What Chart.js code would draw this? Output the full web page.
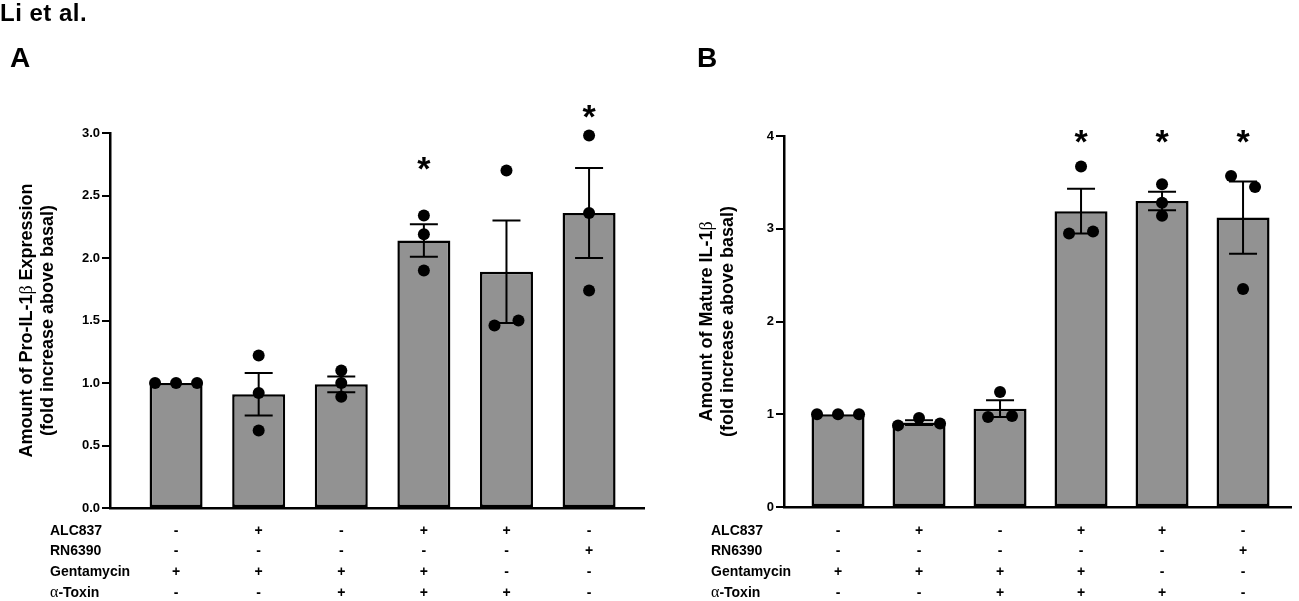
<!DOCTYPE html>
<html lang="en">
<head>
<meta charset="UTF-8">
<title>Li et al. - IL-1β</title>
<style>
  html, body { margin: 0; padding: 0; background: #fff; }
  #wrap { position: relative; width: 1299px; height: 601px; overflow: hidden; }
  canvas { position: absolute; top: 0; }
  #chartA { left: 0; }
  #chartB { left: 650px; }
</style>
</head>
<body>
<div id="wrap">
  <canvas id="chartA" width="650" height="601"></canvas>
  <canvas id="chartB" width="649" height="601"></canvas>
</div>
<script src="https://cdn.jsdelivr.net/npm/chart.js@4.4.1/dist/chart.umd.min.js"></script>
<script>
// treatment table under both panels
const rowNames   = ['ALC837', 'RN6390', 'Gentamycin', 'α-Toxin'];
const alc837     = ['-', '+', '-', '+', '+', '-'];
const rn6390     = ['-', '-', '-', '-', '-', '+'];
const gentamycin = ['+', '+', '+', '+', '-', '-'];
const alphaToxin = ['-', '-', '+', '+', '+', '-'];

// panel A: Pro-IL-1b
const proMeans = [1.00, 0.91, 0.99, 2.14, 1.89, 2.36];
const proSem   = [0.00, 0.17, 0.063, 0.13, 0.41, 0.36];
const proDots  = [[1.00, 1.00, 1.00], [1.22, 0.92, 0.62], [1.10, 1.00, 0.89],
                  [2.34, 2.19, 1.90], [2.70, 1.46, 1.50], [2.98, 2.36, 1.74]];
const proStars = [null, null, null, 2.76, null, 3.17];
const proTicks = [0, 0.5, 1.0, 1.5, 2.0, 2.5, 3.0];

// panel B: mature IL-1b
const matMeans = [1.00, 0.91, 1.06, 3.19, 3.30, 3.12];
const matSem   = [0.00, 0.025, 0.09, 0.24, 0.10, 0.39];
const matDots  = [[1.00, 1.00, 1.00], [0.88, 0.96, 0.90], [1.24, 0.97, 0.98],
                  [3.67, 2.95, 2.97], [3.48, 3.28, 3.14], [3.57, 3.45, 2.35]];
const matStars = [null, null, null, 3.99, 3.99, 3.99];
const matTicks = [0, 1, 2, 3, 4];

const SANS = '"Liberation Sans", Arial, sans-serif';
const SERIF = '"Liberation Serif", "Times New Roman", serif';
const DOT_R = 6;
const CAP = 14;

// prism style scatter: dots closer than one diameter are spread sideways
function spreadDots(dots, pxPerUnit, pxPerCat) {
  const pts = [];
  dots.forEach((vals, i) => {
    const order = vals.map((v, k) => k).sort((a, b) => vals[a] - vals[b]);
    const groups = [];
    order.forEach(k => {
      const g = groups[groups.length - 1];
      if (g && (vals[k] - vals[g[g.length - 1]]) * pxPerUnit < DOT_R * 2) g.push(k);
      else groups.push([k]);
    });
    groups.forEach(g => {
      g.sort((a, b) => a - b);
      const step = g.length === 2 ? 24 : 21;
      g.forEach((k, j) => pts.push({ x: i + (j - (g.length - 1) / 2) * step / pxPerCat, y: vals[k] }));
    });
  });
  return pts;
}

function drawParts(ctx, parts, x, y, align) {
  let w = 0;
  parts.forEach(p => { ctx.font = p.f; w += ctx.measureText(p.t).width; });
  let cx = align === 'center' ? x - w / 2 : x;
  ctx.textAlign = 'left';
  parts.forEach(p => {
    ctx.font = p.f;
    ctx.fillText(p.t, cx, y);
    cx += ctx.measureText(p.t).width;
  });
}

const panelDecor = {
  id: 'panelDecor',
  afterDraw(chart, args, o) {
    const ctx = chart.ctx, xs = chart.scales.x, ys = chart.scales.y;
    ctx.save();
    ctx.fillStyle = '#000';
    ctx.strokeStyle = '#000';

    // SEM bars
    ctx.lineWidth = 2;
    o.means.forEach((m, i) => {
      const s = o.sem[i];
      if (!s) return;
      const x = xs.getPixelForValue(i);
      const y1 = ys.getPixelForValue(m + s), y2 = ys.getPixelForValue(m - s);
      ctx.beginPath();
      ctx.moveTo(x, y1); ctx.lineTo(x, y2);
      ctx.moveTo(x - CAP, y1); ctx.lineTo(x + CAP, y1);
      ctx.moveTo(x - CAP, y2); ctx.lineTo(x + CAP, y2);
      ctx.stroke();
    });

    // asterisks
    ctx.font = 'bold 34px ' + SANS;
    ctx.textAlign = 'center';
    ctx.textBaseline = 'alphabetic';
    o.stars.forEach((v, i) => {
      if (v == null) return;
      const m = ctx.measureText('*');
      const off = (m.actualBoundingBoxAscent - m.actualBoundingBoxDescent) / 2;
      ctx.fillText('*', xs.getPixelForValue(i), ys.getPixelForValue(v) + off);
    });

    // y axis title, rotated
    const midY = (ys.top + ys.bottom) / 2;
    o.title.forEach((parts, li) => {
      ctx.save();
      ctx.translate(o.titleX[li], midY);
      ctx.rotate(-Math.PI / 2);
      drawParts(ctx, parts, 0, 0, 'center');
      ctx.restore();
    });

    // treatment table
    const rows = [alc837, rn6390, gentamycin, alphaToxin];
    const bold14 = 'bold 14px ' + SANS;
    rows.forEach((signs, r) => {
      const y = o.rowY[r];
      if (rowNames[r].startsWith('α')) {
        drawParts(ctx, [{ t: 'α', f: '16px ' + SERIF }, { t: rowNames[r].slice(1), f: bold14 }], o.tableX, y, 'left');
      } else {
        drawParts(ctx, [{ t: rowNames[r], f: bold14 }], o.tableX, y, 'left');
      }
      ctx.font = bold14;
      ctx.textAlign = 'center';
      signs.forEach((s, i) => ctx.fillText(s, xs.getPixelForValue(i), y));
    });

    // figure / panel letters
    ctx.textAlign = 'left';
    if (o.header) {
      ctx.font = 'bold 24px ' + SANS;
      if ('letterSpacing' in ctx) ctx.letterSpacing = '0.5px';
      ctx.fillText('Li et al.', 0, 21);
      if ('letterSpacing' in ctx) ctx.letterSpacing = '0px';
    }
    ctx.font = 'bold 28px ' + SANS;
    ctx.fillText(o.letter, o.letterX, 67);
    ctx.restore();
  }
};

function makePanel(id, p) {
  const pxPerUnit = (p.bottom - p.top) / p.yMax;
  const pxPerCat = (p.right - p.axisX) / (p.xMax - p.xMin);
  const canvas = document.getElementById(id);
  return new Chart(canvas, {
    type: 'bar',
    data: {
      datasets: [
        {
          type: 'scatter',
          data: spreadDots(p.dots, pxPerUnit, pxPerCat),
          backgroundColor: '#000',
          borderWidth: 0,
          pointRadius: DOT_R,
          clip: false,
          order: 0
        },
        {
          type: 'bar',
          data: p.means.map((m, i) => ({ x: i, y: m })),
          backgroundColor: '#929292',
          borderColor: '#000',
          borderWidth: 2.5,
          borderSkipped: false,
          categoryPercentage: 1,
          barPercentage: 53 / pxPerCat,
          order: 1
        }
      ]
    },
    options: {
      responsive: false,
      animation: false,
      events: [],
      layout: { padding: { left: 0, right: canvas.width - p.right, top: p.top, bottom: canvas.height - p.bottom } },
      plugins: {
        legend: { display: false },
        tooltip: { enabled: false },
        panelDecor: p.decor
      },
      scales: {
        x: {
          type: 'linear',
          min: p.xMin,
          max: p.xMax,
          offset: false,
          afterBuildTicks: s => { s.ticks = p.means.map((m, i) => ({ value: i })); },
          ticks: { display: false },
          grid: { display: false },
          border: { display: true, color: '#000', width: 2.5 },
          afterFit: s => { s.height = 0; }
        },
        y: {
          min: 0,
          max: p.yMax,
          afterBuildTicks: s => { s.ticks = p.ticks.map(v => ({ value: v })); },
          ticks: {
            color: '#000',
            padding: 2,
            font: { family: SANS, size: 13, weight: 'bold' },
            callback: v => p.fmt(v)
          },
          grid: { display: true, drawOnChartArea: false, drawTicks: true, tickLength: 8, color: '#000', lineWidth: 2 },
          border: { display: true, color: '#000', width: 2.5 },
          afterFit: s => { s.width = p.axisX; }
        }
      }
    },
    plugins: [panelDecor]
  });
}

const rowY = [534.5, 554.5, 576, 597];

makePanel('chartA', {
  means: proMeans, dots: proDots, ticks: proTicks, yMax: 3,
  fmt: v => v.toFixed(1),
  axisX: 110, right: 644, top: 133, bottom: 508, xMin: -0.8, xMax: 5.665,
  decor: {
    means: proMeans, sem: proSem, stars: proStars,
    title: [
      [{ t: 'Amount of Pro-IL-1', f: 'bold 18px ' + SANS }, { t: 'β', f: '18px ' + SERIF }, { t: ' Expression', f: 'bold 18px ' + SANS }],
      [{ t: '(fold increase above basal)', f: 'bold 18px ' + SANS }]
    ],
    titleX: [32, 53],
    tableX: 50, rowY: rowY,
    header: true, letter: 'A', letterX: 10
  }
});

makePanel('chartB', {
  means: matMeans, dots: matDots, ticks: matTicks, yMax: 4,
  fmt: v => String(v),
  axisX: 134, right: 641, top: 136, bottom: 507, xMin: -0.667, xMax: 5.592,
  decor: {
    means: matMeans, sem: matSem, stars: matStars,
    title: [
      [{ t: 'Amount of Mature IL-1', f: 'bold 18px ' + SANS }, { t: 'β', f: '18px ' + SERIF }],
      [{ t: '(fold increase above basal)', f: 'bold 18px ' + SANS }]
    ],
    titleX: [61.5, 83],
    tableX: 61, rowY: rowY,
    header: false, letter: 'B', letterX: 47
  }
});
</script>
</body>
</html>
